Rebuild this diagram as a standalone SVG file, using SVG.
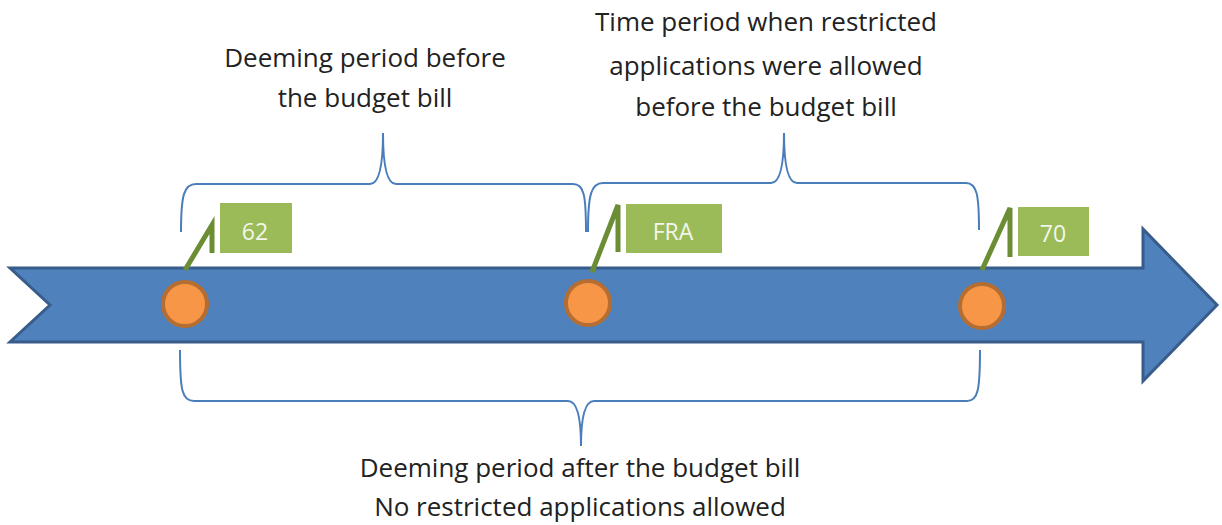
<svg xmlns="http://www.w3.org/2000/svg" width="1222" height="525" viewBox="0 0 1222 525">
  <style>
    .label { font-family: "Open Sans", "Liberation Sans", sans-serif; font-size: 26px; fill: #222; text-anchor: middle; }
    .tag { font-family: "Open Sans", "Liberation Sans", sans-serif; font-size: 23px; fill: #f2f6ea; text-anchor: middle; }
    .brace { fill: none; stroke: #4a7ebb; stroke-width: 2; }
    .dot { fill: #f79646; stroke: #b66d31; stroke-width: 4; }
    .stem { fill: none; stroke: #6b8e35; stroke-width: 5; stroke-linejoin: miter; }
    .box { fill: #9bbb59; }
  </style>

  <rect width="1222" height="525" fill="#ffffff"/>

  <!-- timeline arrow -->
  <g id="timeline">
    <path d="M10,268 L1143,268 L1143,229 L1217,305 L1143,381 L1143,342 L10,342 L50,305 Z" fill="#4f81bd" stroke="#385d8a" stroke-width="3" stroke-linejoin="miter"/>
  </g>

  <!-- braces -->
  <g id="connectors">
    <path class="brace" d="M181,232 C181,195 184,184 196,184 L370,184 C378,184 383,170 383,133 C383,170 388,184 396,184 L573,184 C584,184 586,195 586,232"/>
    <path class="brace" d="M588,232 C588,195 591,183 603,183 L771,183 C779,183 784,170 784,133 C784,170 789,183 797,183 L966,183 C977,183 979,195 979,230"/>
    <path class="brace" d="M180,350 C180,390 182,401 194,401 L568,401 C576,401 581,415 581,446 C581,415 586,401 594,401 L967,401 C978,401 980,390 980,350"/>
  </g>

  <!-- milestone 62 -->
  <g id="milestone-62">
    <path class="stem" d="M185,270 L212,225 L212,253"/>
    <rect class="box" x="220" y="203" width="72" height="50"/>
    <text class="tag" x="255" y="240">62</text>
    <circle class="dot" cx="185" cy="304" r="22"/>
  </g>

  <!-- milestone FRA -->
  <g id="milestone-fra">
    <path class="stem" d="M592,272 L618,205 L618,252"/>
    <rect class="box" x="626" y="204" width="96" height="49"/>
    <text class="tag" x="673" y="240">FRA</text>
    <circle class="dot" cx="588" cy="303" r="22"/>
  </g>

  <!-- milestone 70 -->
  <g id="milestone-70">
    <path class="stem" d="M982,270 L1010,208 L1010,257"/>
    <rect class="box" x="1018" y="207" width="71" height="49"/>
    <text class="tag" x="1053" y="242">70</text>
    <circle class="dot" cx="982" cy="306" r="22"/>
  </g>

  <!-- captions -->
  <g id="caption-before">
    <text class="label" x="365" y="67">Deeming period before</text>
    <text class="label" x="365" y="107">the budget bill</text>
  </g>
  <g id="caption-restricted">
    <text class="label" x="766" y="31">Time period when restricted</text>
    <text class="label" x="766" y="75">applications were allowed</text>
    <text class="label" x="766" y="116">before the budget bill</text>
  </g>
  <g id="caption-after">
    <text class="label" x="580" y="477">Deeming period after the budget bill</text>
    <text class="label" x="580" y="516">No restricted applications allowed</text>
  </g>
</svg>
